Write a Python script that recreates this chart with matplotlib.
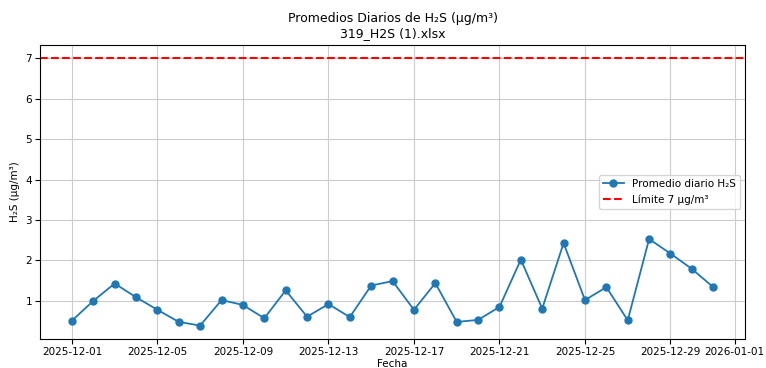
import matplotlib
matplotlib.use("Agg")
import matplotlib.pyplot as plt
import matplotlib.dates as mdates
import pandas as pd

# Daily mean H2S concentrations for December 2025
fechas = pd.date_range("2025-12-01", "2025-12-31", freq="D")
promedios = [0.51, 1.00, 1.43, 1.09, 0.78, 0.48, 0.39, 1.02, 0.90, 0.57,
             1.26, 0.61, 0.92, 0.60, 1.38, 1.49, 0.78, 1.44, 0.48, 0.53,
             0.85, 2.02, 0.81, 2.43, 1.02, 1.34, 0.52, 2.53, 2.17, 1.79,
             1.34]
limite = 7

plt.rcParams["font.family"] = ["DejaVu Sans"]
fig, ax = plt.subplots(figsize=(7.66, 3.68), dpi=100)
fig.subplots_adjust(left=0.052, right=0.973, top=0.878, bottom=0.079)

ax.plot(fechas, promedios, marker="o", markersize=5, linewidth=1.3,
        color="#1f77b4", label="Promedio diario H₂S")
ax.axhline(limite, color="red", linestyle="--", linewidth=1.5,
           label="Límite 7 µg/m³")

ax.set_title("Promedios Diarios de H₂S (µg/m³)\n319_H2S (1).xlsx", fontsize=9)
ax.set_xlabel("Fecha", fontsize=7.5, labelpad=2)
ax.set_ylabel("H₂S (µg/m³)", fontsize=7.5)

ax.xaxis.set_major_locator(mdates.DayLocator(bymonthday=[1, 5, 9, 13, 17, 21, 25, 29]))
ax.xaxis.set_major_formatter(mdates.DateFormatter("%Y-%m-%d"))
ax.tick_params(labelsize=7.5, pad=2)
ax.grid(True, color="#cccccc", linewidth=0.8)
ax.legend(loc="center right", fontsize=7.5)

fig.savefig("out.png", dpi=100)
